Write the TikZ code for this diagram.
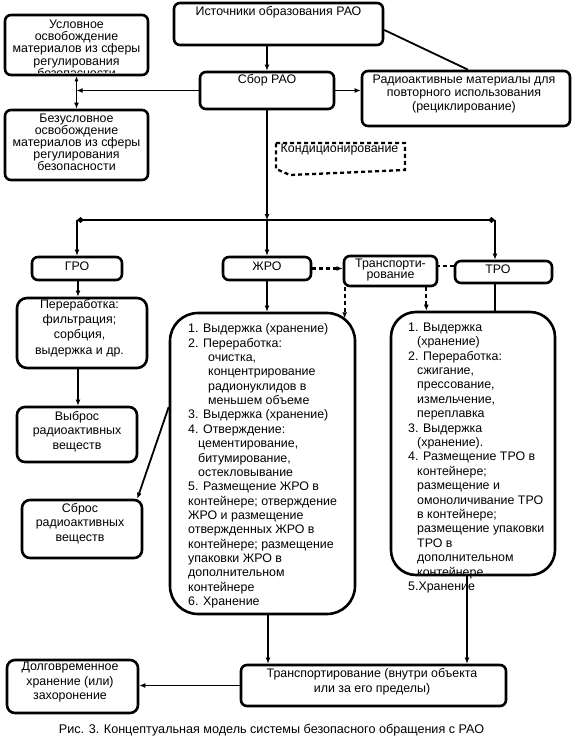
\documentclass[tikz,border=0pt]{standalone}
\usepackage{fontspec}
\setmainfont{Liberation Sans}
\usetikzlibrary{arrows.meta}
\newcommand{\BoxAt}[6][]{\node[box,#1,minimum width={#4-#2},minimum height={#5-#3}] (#6) at ({(#2+#4)/2},{(#3+#5)/2}) {};}
\tikzset{
  box/.style={draw, line width=2.6pt, rounded corners=6pt, inner sep=0pt},
  conn/.style={line width=1.8pt},
  arr/.style={conn, -{Latex[length=6pt,width=5pt]}},
  dsh/.style={line width=2.3pt, dash pattern=on 4pt off 3pt},
  txt/.style={font=\fontsize{12.4}{13}\selectfont, inner sep=0pt, align=center},
}
\begin{document}
\begin{tikzpicture}[x=1pt,y=-1pt]
\fill[white] (0,0) rectangle (573,746);
\useasboundingbox (0,0) rectangle (573,746);

% boxes
\BoxAt{174}{3}{383}{45}{src}
\BoxAt{5}{15}{148}{75}{uslov}
\BoxAt{5}{110}{148}{180}{bezusl}
\BoxAt{200}{72}{334}{109}{sbor}
\BoxAt{362}{71}{570}{126}{radio}
\BoxAt{32}{257}{122}{280}{gro}
\BoxAt{223}{257}{311}{280}{zhro}
\BoxAt{344}{256}{437}{286}{transp}
\BoxAt{455}{261}{552}{283}{tro}
\BoxAt[rounded corners=10pt]{17}{298}{147}{368}{pererab}
\BoxAt[rounded corners=8pt]{17}{407}{137}{462}{vybros}
\BoxAt[rounded corners=8pt]{22}{500}{142}{558}{sbros}
\BoxAt[rounded corners=28pt]{170}{313}{355}{614}{zhbig}
\BoxAt{241}{665}{506}{706}{transb}
\BoxAt[rounded corners=8pt]{7}{660}{138}{713}{dolg}

% texts
\node[txt] (src-t) at (278.5,12) {Источники образования РАО};
\begin{scope}
  \clip (7,17) rectangle (146,73);
  \node[txt, font=\fontsize{12.4}{12.3}\selectfont] (uslov-t) at (76.5,48.5) {Условное\\освобождение\\материалов из сферы\\регулирования\\безопасности};
\end{scope}
\node[txt, font=\fontsize{12.4}{12.1}\selectfont] (bezusl-t) at (76.5,142) {Безусловное\\освобождение\\материалов из сферы\\регулирования\\безопасности};
\node[txt] (sbor-t) at (267,80) {Сбор РАО};
\node[txt, font=\fontsize{12.4}{13.2}\selectfont] (radio-t) at (464,94) {Радиоактивные материалы для\\повторного использования\\(рециклирование)};
\node[txt, anchor=west] (kond) at (280.5,150) {Кондиционирование};
\node[txt] (gro-t) at (77,266) {ГРО};
\node[txt] (zhro-t) at (267,266) {ЖРО};
\node[txt, font=\fontsize{12.4}{11}\selectfont] (transp-t) at (390.5,270.5) {Транспорти-\\рование};
\node[txt] (tro-t) at (498,269) {ТРО};
\node[txt, font=\fontsize{12.4}{15.3}\selectfont] (pererab-t) at (79.5,328) {Переработка:\\фильтрация;\\сорбция,\\выдержка и др.};
\node[txt, font=\fontsize{12.4}{14.5}\selectfont] (vybros-t) at (77,431.5) {Выброс\\радиоактивных\\веществ};
\node[txt, font=\fontsize{12.4}{14.5}\selectfont] (sbros-t) at (80,523.5) {Сброс\\радиоактивных\\веществ};
\node[txt, align=left, anchor=north west, font=\fontsize{12.4}{14.37}\selectfont] (zhbig-t) at (188,323.5) {1. Выдержка (хранение)\\2. Переработка:\\\hspace*{20pt}очистка,\\\hspace*{20pt}концентрирование\\\hspace*{20pt}радионуклидов в\\\hspace*{20pt}меньшем объеме\\3. Выдержка (хранение)\\4. Отверждение:\\\hspace*{10pt}цементирование,\\\hspace*{10pt}битумирование,\\\hspace*{10pt}остекловывание\\5. Размещение ЖРО в\\контейнере; отверждение\\ЖРО и размещение\\отвержденных ЖРО в\\контейнере; размещение\\упаковки ЖРО в\\дополнительном\\контейнере\\6. Хранение};
\node[txt, align=left, anchor=north west, font=\fontsize{12.4}{14.4}\selectfont] (trobig-t) at (408,322.5) {1. Выдержка\\\hspace*{9pt}(хранение)\\2. Переработка:\\\hspace*{9pt}сжигание,\\\hspace*{9pt}прессование,\\\hspace*{9pt}измельчение,\\\hspace*{9pt}переплавка\\3. Выдержка\\\hspace*{9pt}(хранение).\\4. Размещение ТРО в\\\hspace*{9pt}контейнере;\\\hspace*{9pt}размещение и\\\hspace*{9pt}омоноличивание ТРО\\\hspace*{9pt}в контейнере;\\\hspace*{9pt}размещение упаковки\\\hspace*{9pt}ТРО в\\\hspace*{9pt}дополнительном\\\hspace*{9pt}контейнере\\5.Хранение};
\BoxAt[rounded corners=25pt]{391}{312}{555}{575}{trobig}
\node[txt, font=\fontsize{12.4}{15}\selectfont] (transb-t) at (372,681.5) {Транспортирование (внутри объекта\\или за его пределы)};
\node[txt, font=\fontsize{12.4}{14.5}\selectfont] (dolg-t) at (70,682.5) {Долговременное\\хранение (или)\\захоронение};
\node[txt, font=\fontsize{12.6}{14}\selectfont] (cap) at (271.5,730) {Рис. 3. Концептуальная модель системы безопасного обращения с РАО};

% Кондиционирование dashed frame
\draw[dsh] (276,143) -- (405,143) -- (405,170) -- (290,175) -- (276,169) -- cycle;

% connectors
\draw[arr] (src.south -| sbor.north) -- (sbor.north);
\draw[arr] (sbor.west) -- (sbor.west -| uslov.south);
\draw[conn, {Latex[length=5pt,width=4pt]}-{Latex[length=6pt,width=5pt]}] (uslov.south) -- (bezusl.north);
\draw[arr] (sbor.east) -- (sbor.east -| radio.west);
\draw[conn] ([xshift=2pt]radio.north) -- ([yshift=-6pt]src.east);
\coordinate (jc) at (267,220);
\coordinate (jl) at (77,220);
\coordinate (jr) at (495,220);
\draw[arr] (sbor.south) -- (jc);
\draw[conn, {Diamond[length=7pt,width=6pt]}-{Diamond[length=7pt,width=6pt]}] (jl) -- (jr);
\draw[arr] (jc) -- (zhro.north);
\draw[arr] (jl) -- (gro.north);
\draw[arr] (jr) -- (jr |- tro.north);
\draw[arr] ([xshift=1pt]gro.south) -- ([xshift=1pt]gro.south |- pererab.north);
\draw[arr] ([xshift=1pt]vybros.north |- pererab.south) -- ([xshift=1pt]vybros.north);
\draw[arr] ([yshift=56.5pt]zhbig.west) -- ([xshift=-6pt]sbros.north east);
\draw[dsh, -{Latex[length=6pt,width=5pt]}] (zhro.east) -- (zhro.east -| transp.west);
\draw[dsh] ([yshift=6pt]tro.west) -- ([yshift=6pt]tro.west -| transp.east);
\draw[dsh, -{Latex[length=6pt,width=5pt]}] ([xshift=2pt]transp.south west) -- ++(0,31);
\draw[dsh, -{Latex[length=6pt,width=5pt]}] ([xshift=-12pt]transp.south east) -- ([xshift=-12pt]transp.south east |- trobig.north);
\draw[conn] (tro.south -| jr) -- (jr |- trobig.north);
\draw[arr] (zhro.south) -- (zhro.south |- zhbig.north);
\draw[arr] ([xshift=1pt]zhro.south |- zhbig.south) -- ([xshift=1pt]zhro.south |- transb.north);
\draw[arr] ([xshift=-6pt]trobig.south) -- ([xshift=-6pt]trobig.south |- transb.north);
\draw[arr] (transb.west) -- (transb.west -| dolg.east);
\end{tikzpicture}
\end{document}
